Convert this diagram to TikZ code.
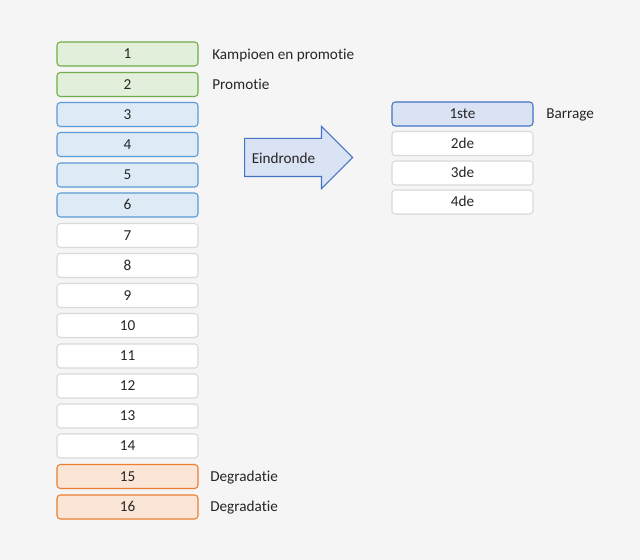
\documentclass[tikz,border=0pt]{standalone}
\usepackage{fontspec}
\setmainfont{Carlito}[Ligatures={NoCommon}]
\usepackage{xcolor}
\usetikzlibrary{shapes,arrows,positioning,calc}

\definecolor{bgcol}{HTML}{F5F5F5}
\definecolor{txtcol}{HTML}{262626}
\definecolor{greenfill}{HTML}{E2EFDA}
\definecolor{greendraw}{HTML}{70AD47}
\definecolor{bluefill}{HTML}{DEEBF7}
\definecolor{bluedraw}{HTML}{5B9BD5}
\definecolor{orangefill}{HTML}{FBE5D6}
\definecolor{orangedraw}{HTML}{ED7D31}
\definecolor{greydraw}{HTML}{D9D9D9}
\definecolor{darkfill}{HTML}{DAE3F3}
\definecolor{darkdraw}{HTML}{4472C4}

\begin{document}
\begin{tikzpicture}[x=0.75pt, y=-0.75pt, every node/.style={font=\fontsize{11.4}{13}\selectfont, text=txtcol}]
  % Styles
  \tikzstyle{rankbox} = [rectangle, rounded corners=2.5pt, line width=0.8pt, minimum width=105.75pt, minimum height=18pt, inner sep=0pt, text height=7.6pt, text depth=0.6pt, fill=white, draw=greydraw]
  \tikzstyle{promo} = [rankbox, fill=greenfill, draw=greendraw]
  \tikzstyle{playoff} = [rankbox, fill=bluefill, draw=bluedraw]
  \tikzstyle{degra} = [rankbox, fill=orangefill, draw=orangedraw]
  \tikzstyle{barr} = [rankbox, fill=darkfill, draw=darkdraw]
  \tikzstyle{note} = [anchor=west, inner sep=0pt, text height=7.6pt, text depth=0.6pt]
  \tikzstyle{bigarrow} = [single arrow, draw=darkdraw, fill=darkfill, line width=0.8pt, minimum height=81pt, single arrow head extend=9pt, single arrow head indent=0pt, inner xsep=0pt, inner ysep=13.875pt, anchor=tail]

  % Background
  \fill[bgcol] (0,0) rectangle (640,560);

  % Regular competition
  \node[promo] (r1) at (127.5,54) {1};
  \node[promo] (r2) at (127.5,84.5) {2};
  \node[playoff] (r3) at (127.5,114.5) {3};
  \node[playoff] (r4) at (127.5,144.5) {4};
  \node[playoff] (r5) at (127.5,175) {5};
  \node[playoff] (r6) at (127.5,205) {6};
  \node[rankbox] (r7) at (127.5,235.5) {7};
  \node[rankbox] (r8) at (127.5,265.5) {8};
  \node[rankbox] (r9) at (127.5,295.5) {9};
  \node[rankbox] (r10) at (127.5,325.5) {10};
  \node[rankbox] (r11) at (127.5,356) {11};
  \node[rankbox] (r12) at (127.5,386) {12};
  \node[rankbox] (r13) at (127.5,416) {13};
  \node[rankbox] (r14) at (127.5,446) {14};
  \node[degra] (r15) at (127.5,476.5) {15};
  \node[degra] (r16) at (127.5,507) {16};

  % Labels
  \node[note] (l1) at (212,55) {Kampioen en promotie};
  \node[note] (l2) at (212,85) {Promotie};
  \node[note] (l15) at (210,477) {Degradatie};
  \node[note] (l16) at (210,507) {Degradatie};

  % Arrow
  \node[bigarrow] (eind) at (244,157.5) {};
  \node (eindtxt) at (283.5,158) {Eindronde};

  % Final round
  \node[barr] (f1) at (462.5,114) {1ste};
  \node[rankbox] (f2) at (462.5,143.5) {2de};
  \node[rankbox] (f3) at (462.5,173) {3de};
  \node[rankbox] (f4) at (462.5,202) {4de};
  \node[note] (lf1) at (546,114) {Barrage};

\end{tikzpicture}
\end{document}
